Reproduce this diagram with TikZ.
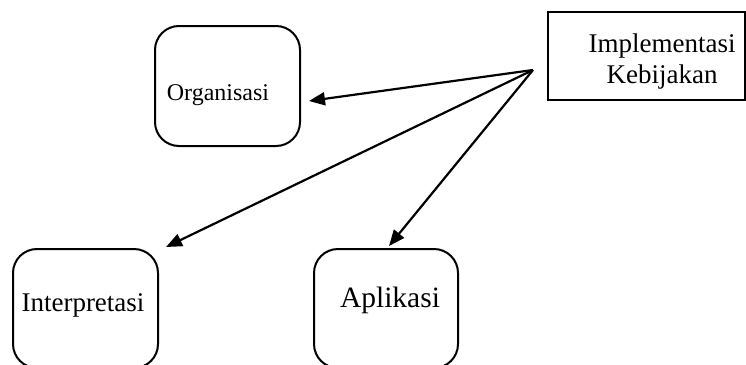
\documentclass[tikz,border=0pt]{standalone}
\usepackage{fontspec}
\setmainfont{Liberation Serif}
\usetikzlibrary{arrows.meta,calc}

\tikzset{
  roundbox/.style={draw, line width=2pt, rounded corners=24pt, inner sep=0pt},
  plainbox/.style={draw, line width=2pt, inner sep=0pt},
  label/.style={inner sep=0pt, anchor=center},
  arr/.style={line width=2.2pt, -{Triangle[length=16pt,width=13pt]}},
}

\begin{document}
\begin{tikzpicture}[x=1pt,y=-1pt]
  \useasboundingbox (0,0) rectangle (746,364);

  % boxes (image coordinates, y grows downward)
  \node[roundbox, minimum width=145pt, minimum height=120pt] (org) at (227.5,86) {};
  \node[plainbox, minimum width=197pt, minimum height=88pt] (impl) at (646.5,56) {};
  \node[roundbox, minimum width=145pt, minimum height=119pt] (interp) at (85.5,308.5) {};
  \node[roundbox, minimum width=144pt, minimum height=119pt] (aplik) at (386,308.5) {};

  % labels
  \node[label, font=\fontsize{24}{28}\selectfont] (orgtext) at (218,95) {Organisasi};
  \node[label, font=\fontsize{27}{31}\selectfont, align=center] (impltext) at (662,62) {Implementasi\\Kebijakan};
  \node[label, font=\fontsize{27}{31}\selectfont] (interptext) at (83,305) {Interpretasi};
  \node[label, font=\fontsize{29.5}{34}\selectfont] (apliktext) at (390,300) {Aplikasi};

  % common source of the arrows, just left of the policy box
  \coordinate (src) at ($(impl.west)+(-14,14)$);
  \coordinate (orgtip) at ($(org.east)+(8,15)$);
  \coordinate (interptip) at ($(interp.north east)+(7,-1)$);
  \coordinate (apliktip) at ($(aplik.north)+(3,-2)$);

  \draw[arr] (src) -- (orgtip);
  \draw[arr] (src) -- (interptip);
  \draw[arr] (src) -- (apliktip);
\end{tikzpicture}
\end{document}
